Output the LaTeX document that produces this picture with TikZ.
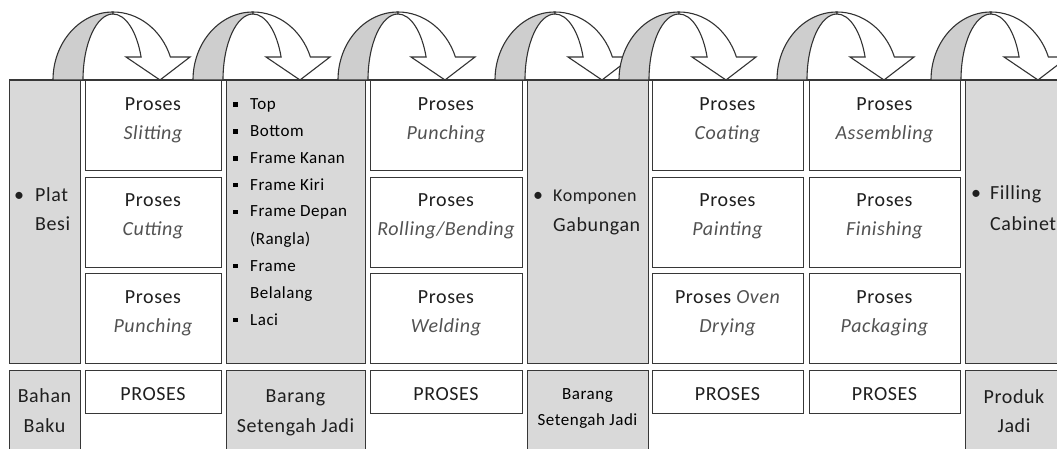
\documentclass[tikz,border=0pt]{standalone}
\usepackage{fontspec}
\setmainfont{Carlito}[LetterSpace=3]
\definecolor{cellgray}{RGB}{217,217,217}
\definecolor{arcgray}{RGB}{206,206,206}
\definecolor{linegray}{RGB}{55,55,55}
\tikzset{
  graycell/.style={fill=cellgray, draw=linegray, line width=1.2pt, anchor=north west, inner sep=0pt},
  whitecell/.style={fill=white, draw=linegray, line width=1.2pt, anchor=north west, inner sep=0pt},
  txt/.style={inner sep=0pt, anchor=base, font=\fontsize{20}{24}\selectfont, text=black!88},
  itxt/.style={inner sep=0pt, anchor=base, font=\fontsize{20}{24}\selectfont\itshape, text=black!68},
  ltxt/.style={inner sep=0pt, anchor=base west, font=\fontsize{17}{20}\selectfont, text=black},
  stxt/.style={inner sep=0pt, anchor=base, font=\fontsize{17}{20}\selectfont, text=black},
  btxt/.style={inner sep=0pt, anchor=base west, font=\fontsize{20}{24}\selectfont, text=black!88},
  archback/.style={fill=arcgray, draw=black!80, line width=1.1pt, line join=round},
  archfront/.style={fill=white, draw=black!80, line width=1.1pt, line join=miter},
}
\newcommand{\archarrow}[1]{%
  \draw[archback] ({#1-60},80) arc[start angle=180,end angle=270,x radius=60,y radius=68]
     -- ({#1},14) arc[start angle=270,end angle=180,x radius=30,y radius=66] -- cycle;
  \draw[archfront] ({#1},12) arc[start angle=270,end angle=340.23,x radius=61,y radius=68]
     -- ({#1+77},57) -- ({#1+47},80) -- ({#1+13},57) -- ({#1+28.1},57)
     arc[start angle=339.6,end angle=270,x radius=30,y radius=66] -- cycle;
}
\newcommand{\sqb}{\makebox[17pt][l]{\rule[3pt]{5pt}{4.5pt}}}
\begin{document}
\begin{tikzpicture}[x=1pt,y=-1pt]
\useasboundingbox (0,0) rectangle (1057,449);
\clip (0,0) rectangle (1057,449);
% top row cells
\node[graycell, minimum width=71pt, minimum height=283pt] (c1) at (9,80) {};
\node[whitecell, minimum width=136pt, minimum height=90pt] (c2a) at (85,80) {};
\node[whitecell, minimum width=136pt, minimum height=90pt] (c2b) at (85,177) {};
\node[whitecell, minimum width=136pt, minimum height=90pt] (c2c) at (85,273) {};
\node[graycell, minimum width=139pt, minimum height=283pt] (c3) at (226,80) {};
\node[whitecell, minimum width=152pt, minimum height=90pt] (c4a) at (370,80) {};
\node[whitecell, minimum width=152pt, minimum height=90pt] (c4b) at (370,177) {};
\node[whitecell, minimum width=152pt, minimum height=90pt] (c4c) at (370,273) {};
\node[graycell, minimum width=121pt, minimum height=283pt] (c5) at (527,80) {};
\node[whitecell, minimum width=151pt, minimum height=90pt] (c6a) at (652,80) {};
\node[whitecell, minimum width=151pt, minimum height=90pt] (c6b) at (652,177) {};
\node[whitecell, minimum width=151pt, minimum height=90pt] (c6c) at (652,273) {};
\node[whitecell, minimum width=151pt, minimum height=90pt] (c7a) at (809,80) {};
\node[whitecell, minimum width=151pt, minimum height=90pt] (c7b) at (809,177) {};
\node[whitecell, minimum width=151pt, minimum height=90pt] (c7c) at (809,273) {};
\node[graycell, minimum width=120pt, minimum height=283pt] (c8) at (965,80) {};
% bottom row cells
\node[graycell, minimum width=71pt, minimum height=100pt] (b1) at (9,370) {};
\node[whitecell, minimum width=136pt, minimum height=43pt] (b2) at (85,370) {};
\node[graycell, minimum width=139pt, minimum height=100pt] (b3) at (226,370) {};
\node[whitecell, minimum width=152pt, minimum height=43pt] (b4) at (370,370) {};
\node[graycell, minimum width=121pt, minimum height=100pt] (b5) at (527,370) {};
\node[whitecell, minimum width=151pt, minimum height=43pt] (b6) at (652,370) {};
\node[whitecell, minimum width=151pt, minimum height=43pt] (b7) at (809,370) {};
\node[graycell, minimum width=120pt, minimum height=100pt] (b8) at (965,370) {};
% top border line
\draw[linegray, line width=1.2pt] (c1.north west) -- (1060,80);
% arrows
\archarrow{113}
\archarrow{253}
\archarrow{398}
\archarrow{555}
\archarrow{679}
\archarrow{837}
\archarrow{991}
% column 1
\node[btxt] (t1a) at (14,201) {\makebox[21pt][l]{•}Plat};
\node[btxt] (t1b) at (35,230) {Besi};
\node[txt] (u1a) at (44.5,402) {Bahan};
\node[txt] (u1b) at (44.5,432) {Baku};
% column 2
\node[txt] (t2a1) at (153,111) {Proses};
\node[itxt] (t2a2) at (153,140) {Slitting};
\node[txt] (t2b1) at (153,207) {Proses};
\node[itxt] (t2b2) at (153,236) {Cutting};
\node[txt] (t2c1) at (153,303) {Proses};
\node[itxt] (t2c2) at (153,332) {Punching};
\node[txt] (u2) at (153,400) {PROSES};
% column 3
\node[ltxt] (l1) at (233,110) {\sqb Top};
\node[ltxt] (l2) at (233,137) {\sqb Bottom};
\node[ltxt] (l3) at (233,164) {\sqb Frame Kanan};
\node[ltxt] (l4) at (233,190) {\sqb Frame Kiri};
\node[ltxt] (l5) at (233,217) {\sqb Frame Depan};
\node[ltxt] (l6) at (250,244) {(Rangla)};
\node[ltxt] (l7) at (233,271) {\sqb Frame};
\node[ltxt] (l8) at (250,298) {Belalang};
\node[ltxt] (l9) at (233,325) {\sqb Laci};
\node[txt] (u3a) at (295.5,402) {Barang};
\node[txt] (u3b) at (295.5,432) {Setengah Jadi};
% column 4
\node[txt] (t4a1) at (446,111) {Proses};
\node[itxt] (t4a2) at (446,140) {Punching};
\node[txt] (t4b1) at (446,207) {Proses};
\node[itxt] (t4b2) at (446,236) {Rolling/Bending};
\node[txt] (t4c1) at (446,303) {Proses};
\node[itxt] (t4c2) at (446,332) {Welding};
\node[txt] (u4) at (446,400) {PROSES};
% column 5
\node[btxt] (t5a) at (533,202) {\makebox[20pt][l]{•}{\fontsize{18}{22}\selectfont Komponen}};
\node[btxt] (t5b) at (553,231) {Gabungan};
\node[stxt] (u5a) at (587.5,399) {Barang};
\node[stxt] (u5b) at (587.5,425) {Setengah Jadi};
% column 6
\node[txt] (t6a1) at (727.5,111) {Proses};
\node[itxt] (t6a2) at (727.5,140) {Coating};
\node[txt] (t6b1) at (727.5,207) {Proses};
\node[itxt] (t6b2) at (727.5,236) {Painting};
\node[txt] (t6c1) at (727.5,303) {Proses {\itshape\color{black!68}Oven}};
\node[itxt] (t6c2) at (727.5,332) {Drying};
\node[txt] (u6) at (727.5,400) {PROSES};
% column 7
\node[txt] (t7a1) at (884.5,111) {Proses};
\node[itxt] (t7a2) at (884.5,140) {Assembling};
\node[txt] (t7b1) at (884.5,207) {Proses};
\node[itxt] (t7b2) at (884.5,236) {Finishing};
\node[txt] (t7c1) at (884.5,303) {Proses};
\node[itxt] (t7c2) at (884.5,332) {Packaging};
\node[txt] (u7) at (884.5,400) {PROSES};
% column 8
\node[btxt] (t8a) at (971,200) {\makebox[19pt][l]{•}Filling};
\node[btxt] (t8b) at (990,230) {Cabinet};
\node[txt] (u8a) at (1014,403) {Produk};
\node[txt] (u8b) at (1014,432) {Jadi};
\end{tikzpicture}
\end{document}
